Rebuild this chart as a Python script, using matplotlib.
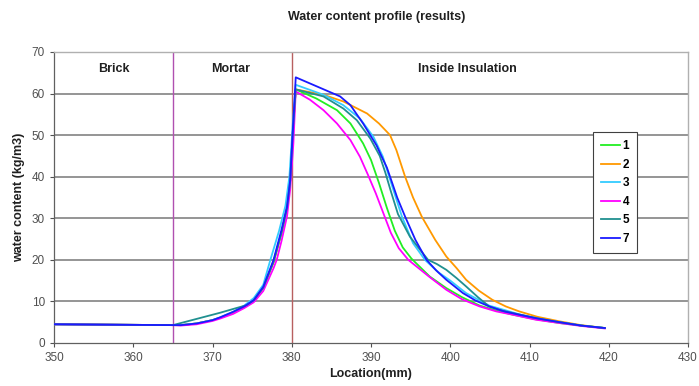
import matplotlib
matplotlib.use("Agg")
import matplotlib.pyplot as plt

plt.rcParams['font.family'] = ['Liberation Sans', 'DejaVu Sans']

# location (mm) and water content (kg/m3) for each result series
x1 = [350, 365, 366, 368, 370, 371, 372.6, 374, 375.2, 376.4, 377.7, 378.7, 379.4, 379.8,
      380.1, 380.5, 383.1, 385.7, 387.4, 389, 390, 391, 392, 393, 394, 395.1,
      397.4, 399.5, 401.5, 403.7, 405.8, 407.9, 410.8, 413.8, 416.5, 419.5]
y1 = [4.5, 4.3, 4.3, 4.7, 5.5, 6.1, 7.3, 8.7, 10.2, 13.3, 19.5, 26.5, 32.5, 39,
      50, 61, 58.8, 56, 52.8, 48, 44, 38.5, 32.5, 27, 23, 20.3,
      16, 13.2, 11, 9, 7.8, 6.8, 5.7, 4.8, 4.2, 3.6]

x2 = [350, 365, 366, 368, 370, 371, 372.6, 374, 375.2, 376.4, 377.7, 378.7, 379.4, 379.8,
      380.1, 380.5, 384, 386.5, 389.5, 391, 392.4, 393.2, 394.3, 395.3, 396.4, 398.1,
      399.5, 400.8, 402, 403.6, 405.3, 407, 408.7, 411, 413.8, 416.5, 419.5]
y2 = [4.5, 4.3, 4.3, 4.7, 5.5, 6.1, 7.3, 8.7, 10.2, 13.3, 19.5, 26.5, 32.5, 39,
      50, 61, 59.7, 58.1, 55.2, 52.8, 50, 46.4, 40, 35, 30.4, 24.8,
      20.8, 18, 15.2, 12.6, 10.4, 8.8, 7.6, 6.3, 5.2, 4.3, 3.6]

x3 = [350, 365, 366, 368, 370, 371, 372.6, 374, 375.2, 376.4, 377.3, 378.4, 379.2, 379.7,
      380.1, 380.5, 384, 386.5, 388.6, 390.3, 391.5, 392.2, 393.9, 395.3, 396.8, 398.5,
      400, 402, 404.9, 408.7, 411, 413.8, 416.5, 419.5]
y3 = [4.5, 4.3, 4.3, 4.7, 5.5, 6.2, 7.5, 9, 10.8, 14, 20, 27, 33, 40,
      52, 62.1, 59.7, 57.2, 54, 49.6, 44.8, 40.5, 30.4, 24, 20, 17,
      15, 12, 9, 6.9, 5.9, 5, 4.2, 3.6]

x4 = [350, 365, 366, 368, 370, 371, 372.6, 374, 375.2, 376.4, 377.7, 378.1, 378.7, 379.4,
      379.8, 380.2, 380.5, 382.3, 384, 385.7, 387.4, 388.6, 389.6, 390.6, 391.6, 392.5,
      393.5, 394.7, 397.3, 399.5, 401.5, 403.7, 405.8, 407.9, 410.8, 413.8, 416.5, 419.5]
y4 = [4.5, 4.3, 4.2, 4.5, 5.3, 5.9, 7, 8.4, 9.8, 12.5, 18, 20, 24.5, 30.5,
      37, 48, 60.5, 58.5, 56, 52.8, 48.8, 44.8, 40.5, 36, 31, 26.5,
      22.8, 20, 16, 12.8, 10.5, 8.8, 7.6, 6.8, 5.6, 4.8, 4.1, 3.5]

x5 = [350, 365, 367.2, 369, 371, 373, 374.3, 375.2, 376.4, 377.7, 378.7, 379.4, 379.8,
      380.1, 380.5, 384, 386.5, 388.2, 389.9, 391.1, 391.8, 392.5, 393.4, 394.9, 396.2,
      397.2, 398.3, 399.5, 400.8, 402, 403.5, 404.9, 406.3, 407.9, 410.8, 413.8, 416.5,
      419.5]
y5 = [4.5, 4.3, 5.4, 6.3, 7.3, 8.4, 9.1, 10.3, 13.3, 19.5, 26.5, 32.5, 39,
      50, 61, 59.3, 56.4, 53.6, 49.2, 45, 41, 36.5, 31, 25.6, 22.4,
      20, 19, 17.6, 15.6, 13.6, 11, 8.8, 7.9, 7.2, 6, 5, 4.2,
      3.6]

x7 = [350, 365, 366, 368, 370, 371, 372.6, 374, 375.2, 376.4, 377.7, 378.7, 379.4, 379.8,
      380.1, 380.5, 386.1, 387.4, 389, 390.7, 391.3, 392, 392.4, 393.3, 394.3, 395.6,
      397, 398.2, 399.5, 401.6, 403.2, 404.9, 406.8, 408.7, 411, 413.8, 416.5, 419.5]
y7 = [4.5, 4.3, 4.3, 4.7, 5.5, 6.2, 7.5, 8.8, 10.3, 13.5, 20, 27.2, 32.8, 39.2,
      50, 63.9, 59.3, 57.2, 52.8, 47.5, 45, 42.2, 40, 35, 30.4, 24.8,
      20, 17.5, 15.2, 12, 10.2, 8.8, 7.6, 6.8, 5.9, 5, 4.2, 3.6]

series = [("1", x1, y1, "#22ee22"), ("2", x2, y2, "#ff9900"), ("3", x3, y3, "#33ccff"),
          ("4", x4, y4, "#ff00ff"), ("5", x5, y5, "#209090"), ("7", x7, y7, "#1a1aff")]

layers = ["Brick", "Mortar", "Inside Insulation"]
layer_centres = [357.5, 372.3, 402.2]
boundaries = [365, 380]

fig = plt.figure(figsize=(6.99, 3.86), dpi=100)
ax = fig.add_axes([0.0773, 0.1114, 0.907, 0.754])

for y in range(10, 70, 10):
    ax.axhline(y, color="#8c8c8c", lw=1.3, zorder=1)

ax.axvline(boundaries[0], color="#b050b0", lw=1.0, zorder=2)
ax.axvline(boundaries[1], color="#b86060", lw=1.0, zorder=2)

for name, xs, ys, col in series:
    ax.plot(xs, ys, color=col, lw=1.3, label=name, zorder=3)

for name, xc in zip(layers, layer_centres):
    ax.text(xc, 66.0, name, ha="center", va="center", fontsize=9, fontweight="bold",
            color="#202020")

ax.set_xlim(350, 430)
ax.set_ylim(0, 70)
ax.set_xticks(range(350, 431, 10))
ax.set_yticks(range(0, 71, 10))
ax.tick_params(labelsize=8.5, colors="#505050", length=3, width=0.8, direction="out")

for side in ["top", "right"]:
    ax.spines[side].set_color("#b0b0b0")
    ax.spines[side].set_linewidth(1.0)
for side in ["left", "bottom"]:
    ax.spines[side].set_color("#606060")
    ax.spines[side].set_linewidth(0.9)

ax.set_xlabel("Location(mm)", fontsize=9, fontweight="bold", labelpad=3, color="#202020")
ax.set_ylabel("water content (kg/m3)", fontsize=9, fontweight="bold", labelpad=5,
              color="#202020")
fig.text(0.539, 0.956, "Water content profile (results)", ha="center", va="center",
         fontsize=9, fontweight="bold", color="#202020")

leg = ax.legend(loc="upper left", bbox_to_anchor=(0.850, 0.725), fancybox=False,
                edgecolor="#404040", framealpha=1, handlelength=1.6, handletextpad=0.2,
                labelspacing=0.55, borderpad=0.7, borderaxespad=0,
                prop={"size": 8.5, "weight": "bold"})
leg.get_frame().set_linewidth(0.8)

plt.savefig("out.png", dpi=100)
